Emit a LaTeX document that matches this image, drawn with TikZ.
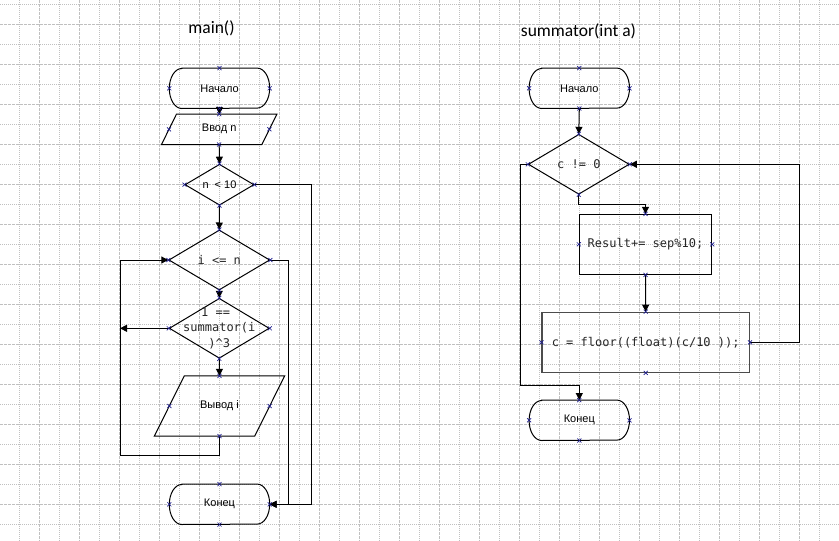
\documentclass[tikz,border=0pt]{standalone}
\usepackage{fontspec}
\setmainfont{Liberation Sans}
\newfontfamily\monofont{DejaVu Sans Mono}
\newfontfamily\headfont{Carlito}
\usetikzlibrary{shapes.geometric,arrows.meta,calc}

\definecolor{gridc}{RGB}{192,192,192}
\definecolor{markc}{RGB}{30,30,140}

\tikzset{
  x=1pt, y=1pt,
  plaintext/.style={inner sep=0pt, font=\fontsize{11}{13}\selectfont},
  monotext/.style={inner sep=0pt, text=black!85, font=\monofont\fontsize{12}{15.7}\selectfont},
  headtext/.style={inner sep=0pt, anchor=base, font=\headfont\fontsize{17.5}{20}\selectfont},
  termbox/.style={plaintext, minimum width=100pt, minimum height=40pt},
  iobox/.style={plaintext, minimum width=100pt},
  procbox/.style={monotext, draw=black, line width=1pt},
  decision/.style={diamond, draw=black, line width=1pt, inner sep=0pt},
  outline/.style={draw=black, line width=1pt},
  link/.style={line width=1pt},
  flow/.style={line width=1pt, -{Triangle[length=7pt,width=7pt]}},
  gridminor/.style={draw=gridc, line width=0.8pt, dash pattern=on 1pt off 1pt},
  gridmajor/.style={draw=gridc, line width=0.8pt, dash pattern=on 3pt off 1pt},
  cp/.pic={\draw[markc, line width=0.7pt] (-2pt,-2pt) -- (2pt,2pt) (-2pt,2pt) -- (2pt,-2pt);}
}

% start/end block: flat top and bottom, elliptic ends
\newcommand\terminaloutline[1]{%
  \draw[outline] ([xshift=12.5pt]#1.north west) -- ([xshift=-12.5pt]#1.north east)
    arc[start angle=90, end angle=-90, x radius=12.5pt, y radius=20pt]
    -- ([xshift=12.5pt]#1.south west)
    arc[start angle=270, end angle=90, x radius=12.5pt, y radius=20pt] -- cycle;}
% input/output block: parallelogram leaning right
\newcommand\iooutline[2]{%
  \draw[outline] ([xshift=-#2]#1.south west) -- ([xshift=#2]#1.north west)
    -- ([xshift=#2]#1.north east) -- ([xshift=-#2]#1.south east) -- cycle;}

\begin{document}
\begin{tikzpicture}
\useasboundingbox (0,0) rectangle (839,-541);

% background grid
\foreach \i in {0,...,20} \draw[gridminor] (19.3+40*\i,0) -- (19.3+40*\i,-541);
\foreach \i in {0,...,19} \draw[gridmajor] (39.3+40*\i,0) -- (39.3+40*\i,-541);
\foreach \i in {0,...,13} \draw[gridminor] (0,-4.7-40*\i) -- (839,-4.7-40*\i);
\foreach \i in {0,...,12} \draw[gridmajor] (0,-24.7-40*\i) -- (839,-24.7-40*\i);

% headings
\node[headtext] (h1) at (211.5,-33) {main()};
\node[headtext] (h2) at (578.5,-36.7) {summator(int a)};

% ---- main()
\node[termbox] (n1) at (219.5,-88.3) {Начало};
\node[iobox, minimum height=30pt] (vv) at (219.2,-129.3) {Ввод n};
\node[decision, minimum width=69pt, minimum height=41pt,
      label={[plaintext]center:n~~< 10}] (d1) at (219.5,-184.7) {};
\node[decision, minimum width=101pt, minimum height=60pt,
      label={[monotext]center:i <= n}] (d2) at (219.3,-260) {};
\node[decision, minimum width=100pt, minimum height=60pt,
      label={[monotext, align=center]center:1 ==\hphantom{=}\\summator(i\\)\textasciicircum3}] (d3) at (219.3,-328.3) {};
\node[iobox, minimum height=60pt] (out) at (219.5,-406) {Вывод i};
\node[termbox] (k1) at (219.5,-504.3) {Конец};

\terminaloutline{n1}
\iooutline{vv}{7.5pt}
\iooutline{out}{15pt}
\terminaloutline{k1}

\coordinate (ra) at (311.7,-184.7);
\coordinate (rb) at (288.3,-260);
\coordinate (la) at (120,-328.3);
\coordinate (lb) at (120,-455);

\draw[flow] (n1.south) -- (vv.north);
\draw[flow] (vv.south) -- (d1.north);
\draw[flow] (d1.south) -- (d2.north);
\draw[flow] (d2.south) -- (d3.north);
\draw[flow] (d3.south) -- (out.north);
\draw[flow] (d3.west) -- (la);
\draw[flow] (out.south) |- (lb) |- (d2.west);
\draw[flow] (d1.east) -- (ra) |- (k1.east);
\draw[flow] (d2.east) -- (rb) |- (k1.east);

% ---- summator(int a)
\node[termbox] (n2) at (579.3,-88.3) {Начало};
\node[decision, minimum width=101pt, minimum height=60pt,
      label={[monotext]center:c != 0}] (d4) at (578.8,-164.3) {};
\node[procbox, minimum width=132.4pt, minimum height=60pt] (r1) at (645.5,-244.3) {Result+= sep\%10;};
\node[procbox, draw=black!70, line width=1.2pt, minimum width=207.3pt, minimum height=60pt] (r2) at (645.7,-342.3) {c = floor((float)(c/10 ));};
\node[termbox] (k2) at (579.3,-420.3) {Конец};

\terminaloutline{n2}
\terminaloutline{k2}

\draw[flow] (n2.south) -- (d4.north);
\draw[flow] (d4.south) -- ++(0,-10) -| (r1.north);
\draw[flow] (r1.south) -- (r2.north);
\draw[flow] (r2.east) -- ++(50,0) |- (d4.east);
\draw[flow] (d4.west) -- ++(-7.3,0) |- ([yshift=15pt]k2.north) -- (k2.north);

% connection points
\foreach \n in {n1,vv,d1,d2,d3,out,k1,n2,d4,r1,r2,k2}
  \foreach \a in {north,south,east,west}
    \pic at (\n.\a) {cp};
\end{tikzpicture}
\end{document}
